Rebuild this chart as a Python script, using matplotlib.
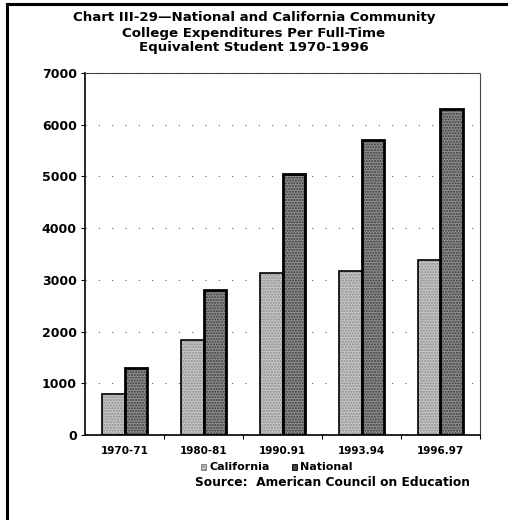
import matplotlib
matplotlib.use("Agg")
import matplotlib.pyplot as plt
import numpy as np
from matplotlib.lines import Line2D
from matplotlib.patches import Rectangle

periods = ["1970-71", "1980-81", "1990.91", "1993.94", "1996.97"]
california = [800, 1840, 3130, 3180, 3390]
national = [1300, 2800, 5050, 5700, 6300]
yticks = [0, 1000, 2000, 3000, 4000, 5000, 6000, 7000]

FONT = "DejaVu Sans"
W, H = 508, 520
fig = plt.figure(figsize=(W / 100, H / 100), dpi=100)
fig.patch.set_facecolor("white")

# page frame (left and top edges)
fig.add_artist(Line2D([7 / W, 7 / W], [0, 1 - 4 / H], color="black", lw=2.2))
fig.add_artist(Line2D([7 / W, 1], [1 - 4 / H, 1 - 4 / H], color="black", lw=2.2))

left, right, top, bottom = 85, 480, 73, 435
ax = fig.add_axes([left / W, 1 - bottom / H, (right - left) / W, (bottom - top) / H])

x = np.arange(len(periods))
bw = 0.29

# bar fills with a stippled halftone texture
ax.bar(x - bw / 2, california, bw, color="#c6c6c6", edgecolor="#8c8c8c",
       hatch="......", lw=0, zorder=2)
ax.bar(x + bw / 2, national, bw, color="#8e8e8e", edgecolor="#3a3a3a",
       hatch="......", lw=0, zorder=2)
# outlines
ax.bar(x - bw / 2, california, bw, fill=False, edgecolor="black", lw=1.2, zorder=3)
ax.bar(x + bw / 2, national, bw, fill=False, edgecolor="black", lw=2.0, zorder=3)

ax.set_xlim(-0.5, len(periods) - 0.5)
ax.set_ylim(0, 7000)

ax.yaxis.grid(True, color="#666666", lw=0.8, linestyle=(0, (1, 11)))
ax.set_axisbelow(True)

for s in ["top", "right"]:
    ax.spines[s].set_linestyle((0, (1, 1)))
    ax.spines[s].set_linewidth(0.8)
    ax.spines[s].set_color("#444444")
ax.spines["left"].set_linewidth(1.2)
ax.spines["bottom"].set_linewidth(1.2)

ax.set_yticks(yticks)
ax.set_yticklabels([str(v) for v in yticks], fontsize=9, fontweight="bold", family=FONT)
ax.tick_params(axis="y", length=3, width=0.8, pad=3)

ax.set_xticks(x)
ax.set_xticklabels(periods, fontsize=7.5, fontweight="bold", family=FONT)
ax.tick_params(axis="x", length=0, pad=8)
ax.set_xticks(np.arange(0.5, len(periods) - 0.5 + 1e-9, 1.0), minor=True)
ax.tick_params(axis="x", which="minor", length=3, width=0.8, direction="out")

fig.text(0.5, 1 - 33 / H,
         "Chart III-29\u2014National and California Community\n"
         "College Expenditures Per Full-Time\n"
         "Equivalent Student 1970-1996",
         ha="center", va="center", fontsize=9.6, fontweight="bold",
         family=FONT, linespacing=1.2)

# legend
ly = 1 - 467 / H
fig.add_artist(Rectangle((201 / W, ly - 3 / H), 5 / W, 6 / H, transform=fig.transFigure,
                         facecolor="#c6c6c6", edgecolor="#777777", lw=0.6, hatch="....."))
fig.text(209 / W, ly, "California", ha="left", va="center", fontsize=8,
         fontweight="bold", family=FONT)
fig.add_artist(Rectangle((292 / W, ly - 3 / H), 5 / W, 6 / H, transform=fig.transFigure,
                         facecolor="#444444", edgecolor="black", lw=0.6))
fig.text(300 / W, ly, "National", ha="left", va="center", fontsize=8,
         fontweight="bold", family=FONT)

fig.text(195 / W, 1 - 483 / H, "Source:  American Council on Education",
         ha="left", va="center", fontsize=8.8, fontweight="bold", family=FONT)

fig.savefig("out.png", dpi=100, facecolor="white")
